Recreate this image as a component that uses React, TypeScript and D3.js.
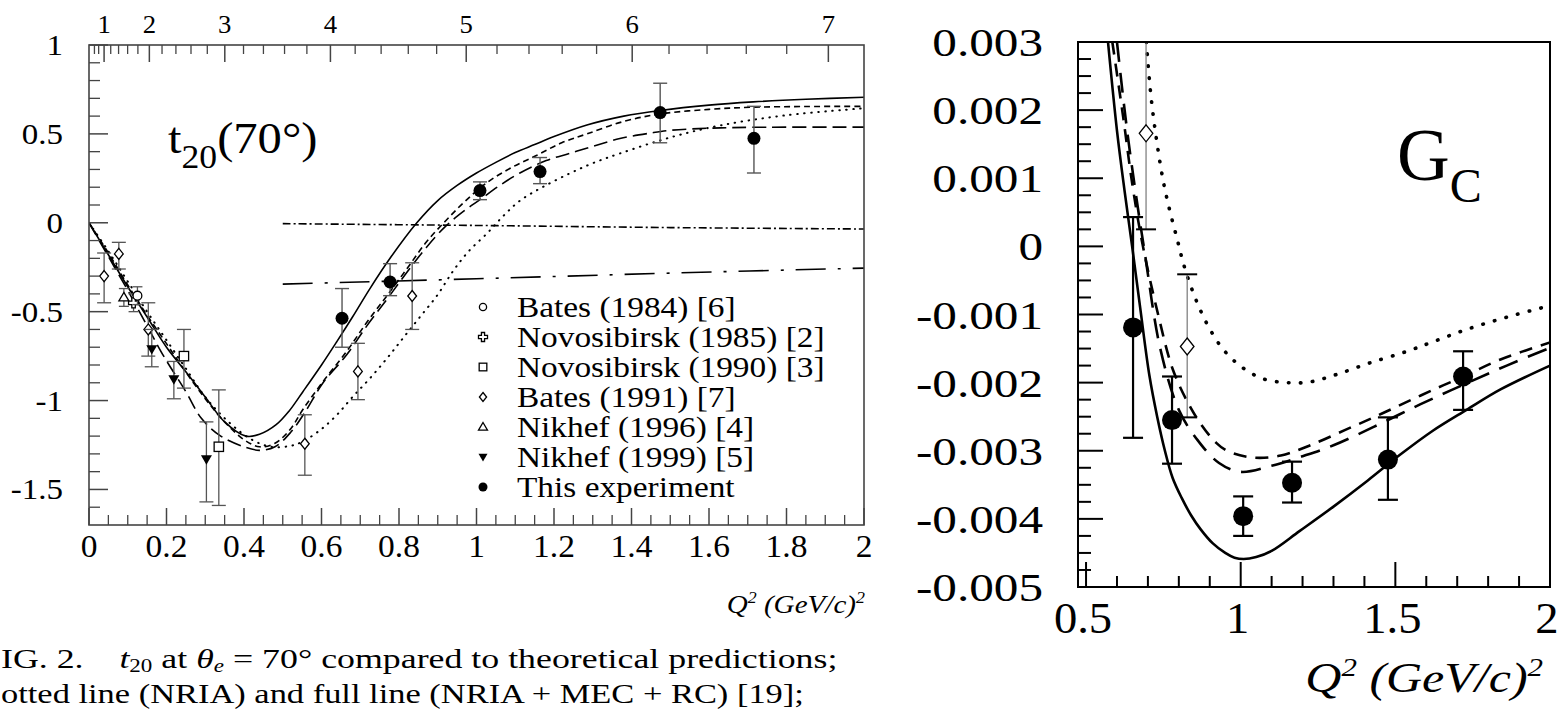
import React from 'react';
import * as d3 from 'd3';

const FONT = '"Liberation Serif", "Times New Roman", Times, serif';
type P = [number, number];
type E = [number, number, number, number];

// ---------- Left panel (t20) ----------
const t20XTicks = [0, 0.2, 0.4, 0.6, 0.8, 1, 1.2, 1.4, 1.6, 1.8, 2];
const t20XTickLabels = ['0', '0.2', '0.4', '0.6', '0.8', '1', '1.2', '1.4', '1.6', '1.8', '2'];
const t20YTicks = [-1.5, -1, -0.5, 0, 0.5, 1];
const t20YTickLabels = ['-1.5', '-1', '-0.5', '0', '0.5', '1'];
const qTopTicks = [1, 2, 3, 4, 5, 6, 7];
const qTopTickLabels = ['1', '2', '3', '4', '5', '6', '7'];
const HBARC = 0.19733;

const t20Solid: P[] = [[0, 0], [0.05, -0.18], [0.1, -0.36], [0.15, -0.53], [0.2, -0.7], [0.258, -0.86], [0.3, -0.98], [0.35, -1.12], [0.405, -1.2], [0.44, -1.19], [0.483, -1.136], [0.516, -1.06], [0.552, -0.95], [0.6, -0.8], [0.64, -0.667], [0.68, -0.53], [0.725, -0.37], [0.78, -0.19], [0.846, 0], [0.9, 0.125], [0.95, 0.21], [1.0, 0.28], [1.05, 0.34], [1.1, 0.395], [1.15, 0.44], [1.2, 0.485], [1.285, 0.55], [1.38, 0.6], [1.474, 0.632], [1.6, 0.662], [1.714, 0.68], [1.85, 0.695], [2.0, 0.706]];
const t20ShortDash: P[] = [[0, 0], [0.05, -0.17], [0.1, -0.35], [0.15, -0.52], [0.2, -0.68], [0.25, -0.84], [0.3, -0.99], [0.35, -1.12], [0.4, -1.22], [0.44, -1.26], [0.48, -1.24], [0.52, -1.16], [0.552, -1.05], [0.604, -0.893], [0.666, -0.72], [0.717, -0.56], [0.769, -0.41], [0.82, -0.26], [0.87, -0.11], [0.92, 0.01], [0.97, 0.12], [1.027, 0.226], [1.09, 0.31], [1.156, 0.38], [1.22, 0.45], [1.285, 0.5], [1.38, 0.57], [1.474, 0.612], [1.6, 0.638], [1.714, 0.65], [1.85, 0.654], [2.0, 0.655]];
const t20LongDash: P[] = [[0, 0], [0.05, -0.19], [0.1, -0.38], [0.15, -0.58], [0.19, -0.74], [0.25, -0.95], [0.29, -1.1], [0.34, -1.2], [0.4, -1.26], [0.44, -1.28], [0.48, -1.26], [0.52, -1.18], [0.556, -1.07], [0.604, -0.9], [0.666, -0.74], [0.717, -0.58], [0.769, -0.43], [0.82, -0.28], [0.87, -0.14], [0.92, -0.02], [0.97, 0.07], [1.009, 0.13], [1.06, 0.21], [1.112, 0.28], [1.18, 0.35], [1.24, 0.39], [1.3, 0.43], [1.37, 0.474], [1.45, 0.505], [1.5, 0.52], [1.6, 0.532], [1.714, 0.537], [2.0, 0.538]];
const t20Dotted: P[] = [[0, 0], [0.05, -0.16], [0.1, -0.33], [0.15, -0.5], [0.2, -0.66], [0.25, -0.82], [0.3, -0.98], [0.36, -1.12], [0.42, -1.22], [0.47, -1.26], [0.52, -1.255], [0.552, -1.23], [0.6, -1.16], [0.64, -1.08], [0.68, -0.98], [0.725, -0.875], [0.77, -0.76], [0.81, -0.65], [0.854, -0.53], [0.898, -0.41], [0.94, -0.27], [0.98, -0.16], [1.027, -0.06], [1.07, 0.04], [1.112, 0.124], [1.17, 0.2], [1.24, 0.277], [1.3, 0.335], [1.37, 0.39], [1.5, 0.48], [1.63, 0.548], [1.8, 0.605], [2.0, 0.644]];
const t20DashDotDot: P[] = [[0.5, -0.005], [1.0, -0.015], [1.5, -0.027], [2.0, -0.035]];
const t20LongDashDot: P[] = [[0.5, -0.345], [1.0, -0.315], [1.5, -0.283], [2.0, -0.255]];

// [x, y, low, high]
const t20ThisExp: E[] = [[0.653, -0.537, -0.70, -0.37], [0.777, -0.333, -0.41, -0.23], [1.009, 0.181, 0.13, 0.23], [1.164, 0.288, 0.22, 0.367], [1.474, 0.62, 0.45, 0.785], [1.716, 0.475, 0.28, 0.655]];
const t20Bates91: E[] = [[0.039, -0.30, -0.45, -0.17], [0.077, -0.175, -0.26, -0.11], [0.153, -0.60, -0.75, -0.45], [0.557, -1.243, -1.42, -1.08], [0.694, -0.836, -0.995, -0.678], [0.834, -0.412, -0.6, -0.225]];
const t20Bates84: E[] = [[0.125, -0.41, -0.46, -0.36]];
const t20Novo85: E[] = [[0.115, -0.45, -0.5, -0.4]];
const t20Novo90: E[] = [[0.245, -0.75, -0.93, -0.6], [0.335, -1.26, -1.59, -0.94]];
const t20Nikhef96: E[] = [[0.09, -0.42, -0.47, -0.37]];
const t20Nikhef99: E[] = [[0.162, -0.71, -0.81, -0.6], [0.219, -0.88, -0.99, -0.78], [0.303, -1.33, -1.57, -1.12]];

const legendLabels = ['Bates (1984) [6]', 'Novosibirsk (1985) [2]', 'Novosibirsk (1990) [3]', 'Bates (1991) [7]', 'Nikhef (1996) [4]', 'Nikhef (1999) [5]', 'This experiment'];
const legendMarkers = ['ocircle', 'cross', 'square', 'diamond', 'utri', 'dtri', 'fcircle'];

// ---------- Right panel (G_C) ----------
const gcXTicks = [0.5, 1, 1.5, 2];
const gcXTickLabels = ['0.5', '1', '1.5', '2'];
const gcYTicks = [0.003, 0.002, 0.001, 0, -0.001, -0.002, -0.003, -0.004, -0.005];
const gcYTickLabels = ['0.003', '0.002', '0.001', '0', '-0.001', '-0.002', '-0.003', '-0.004', '-0.005'];

const gcSolid: P[] = [[0.571, 0.003], [0.6, 0.0017], [0.625, 0.0008], [0.649, 0], [0.675, -0.0009], [0.705, -0.0019], [0.73, -0.0025], [0.755, -0.003], [0.78, -0.0034], [0.81, -0.0037], [0.84, -0.00395], [0.87, -0.00415], [0.91, -0.00436], [0.95, -0.0045], [0.98, -0.00457], [1.01, -0.00459], [1.05, -0.00456], [1.1, -0.00447], [1.19, -0.00418], [1.3, -0.00382], [1.41, -0.00344], [1.515, -0.00306], [1.62, -0.00271], [1.73, -0.0024], [1.84, -0.0021], [2.0, -0.00175]];
const gcShortDash: P[] = [[0.585, 0.003], [0.62, 0.0019], [0.65, 0.0009], [0.684, 0], [0.733, -0.001], [0.78, -0.0018], [0.83, -0.0023], [0.87, -0.0026], [0.92, -0.00288], [0.96, -0.00301], [1.04, -0.0031], [1.13, -0.00307], [1.23, -0.00291], [1.34, -0.00269], [1.43, -0.00251], [1.52, -0.00232], [1.62, -0.00211], [1.72, -0.00191], [1.84, -0.00166], [2.0, -0.00141]];
const gcLongDash: P[] = [[0.6, 0.003], [0.63, 0.0018], [0.66, 0.0008], [0.69, -0.0001], [0.74, -0.0015], [0.8, -0.0024], [0.86, -0.00284], [0.93, -0.00318], [1.0, -0.00331], [1.1, -0.00322], [1.2, -0.00308], [1.3, -0.00292], [1.43, -0.00265], [1.58, -0.00232], [1.72, -0.00203], [1.86, -0.00175], [2.0, -0.00149]];
const gcDotted: P[] = [[0.695, 0.003], [0.71, 0.0022], [0.73, 0.0015], [0.75, 0.00095], [0.772, 0.0005], [0.795, 0.0001], [0.814, -0.00024], [0.84, -0.0006], [0.869, -0.00093], [0.901, -0.00122], [0.943, -0.00151], [1.0, -0.00176], [1.07, -0.00194], [1.15, -0.002], [1.224, -0.00199], [1.31, -0.00188], [1.418, -0.00171], [1.538, -0.00154], [1.622, -0.0014], [1.73, -0.00122], [1.86, -0.00104], [2.0, -0.00087]];

const gcThisExp: E[] = [[0.652, -0.00119, -0.00281, 0.00043], [0.778, -0.00255, -0.00319, -0.00191], [1.008, -0.00396, -0.00425, -0.00367], [1.166, -0.00347, -0.00376, -0.00316], [1.476, -0.00313, -0.00372, -0.00251], [1.719, -0.00191, -0.0024, -0.00154]];
const gcBates91: E[] = [[0.694, 0.00166, 0.00025, 0.003], [0.827, -0.00147, -0.00251, -0.00041]];

// ---------- helpers ----------
const xL = d3.scaleLinear().domain([0, 2]).range([89, 864]);
const yL = d3.scaleLinear().domain([-1.7, 1]).range([525, 45]);
const xR = d3.scaleLinear().domain([0.474, 2]).range([1078, 1550]);
const yR = d3.scaleLinear().domain([-0.005, 0.003]).range([587, 42]);

function makeLine(xs: d3.ScaleLinear<number, number>, ys: d3.ScaleLinear<number, number>) {
  return d3.line<P>().x(d => xs(d[0])).y(d => ys(d[1])).curve(d3.curveCatmullRom.alpha(0.5));
}

function Marker({ type, x, y, s }: { type: string; x: number; y: number; s: number }) {
  const sw = 1.3;
  switch (type) {
    case 'fcircle':
      return <circle cx={x} cy={y} r={s} fill="#000" />;
    case 'ocircle':
      return <circle cx={x} cy={y} r={s * 0.8} fill="#fff" stroke="#000" strokeWidth={sw} />;
    case 'diamond':
      return <path d={`M${x},${y - s}L${x + s * 0.8},${y}L${x},${y + s}L${x - s * 0.8},${y}Z`} fill="#fff" stroke="#000" strokeWidth={sw} />;
    case 'square':
      return <rect x={x - s * 0.85} y={y - s * 0.85} width={s * 1.7} height={s * 1.7} fill="#fff" stroke="#000" strokeWidth={sw} />;
    case 'utri':
      return <path d={`M${x},${y - s}L${x + s},${y + s * 0.7}L${x - s},${y + s * 0.7}Z`} fill="#fff" stroke="#000" strokeWidth={sw} />;
    case 'dtri':
      return <path d={`M${x},${y + s}L${x + s},${y - s * 0.7}L${x - s},${y - s * 0.7}Z`} fill="#000" />;
    case 'cross': {
      const a = s * 0.35, b = s;
      return <path d={`M${x - a},${y - b}H${x + a}V${y - a}H${x + b}V${y + a}H${x + a}V${y + b}H${x - a}V${y + a}H${x - b}V${y - a}H${x - a}Z`} fill="#fff" stroke="#000" strokeWidth={sw} />;
    }
  }
  return null;
}

function ErrPoints({ data, type, xs, ys, s, cap, color, w, capColor, capW }: any) {
  return (
    <g>
      {data.map((d: E, i: number) => {
        const x = xs(d[0]);
        const lo = ys(d[2]);
        const hi = ys(d[3]);
        return (
          <g key={i}>
            <line x1={x} x2={x} y1={lo} y2={hi} stroke={color} strokeWidth={w} />
            <line x1={x - cap} x2={x + cap} y1={lo} y2={lo} stroke={capColor || color} strokeWidth={capW || w} />
            {d[3] < ys.domain()[1] ? <line x1={x - cap} x2={x + cap} y1={hi} y2={hi} stroke={capColor || color} strokeWidth={capW || w} /> : null}
            <Marker type={type} x={x} y={ys(d[1])} s={s} />
          </g>
        );
      })}
    </g>
  );
}

function T({ x, y, sx = 1, size, anchor = 'start', italic = false, children, weight }: any) {
  return (
    <text transform={`translate(${x},${y}) scale(${sx},1)`} fontSize={size} textAnchor={anchor} fontFamily={FONT}
      fontStyle={italic ? 'italic' : 'normal'} fontWeight={weight || 'normal'} fill="#000">
      {children}
    </text>
  );
}

export default function App() {
  const lineL = makeLine(xL, yL);
  const lineR = makeLine(xR, yR);
  const axisCol = '#444';

  const lxMinor = d3.range(0.05, 2, 0.05).filter(v => Math.abs(v / 0.2 - Math.round(v / 0.2)) > 1e-6);
  const lyMinor = d3.range(-1.7, 1.0001, 0.1).filter(v => Math.abs(v / 0.5 - Math.round(v / 0.5)) > 1e-6 && v > -1.69);
  const qMinor = d3.range(0.6, 7.1, 0.2).filter(v => Math.abs(v - Math.round(v)) > 1e-6);
  const qToQ2 = (q: number) => (q * HBARC) ** 2;

  const rxMinor = d3.range(0.6, 2, 0.1).filter(v => Math.abs(v / 0.5 - Math.round(v / 0.5)) > 1e-6);
  const ryMinor = d3.range(-0.005, 0.003, 0.00025).filter(v => Math.abs(v / 0.001 - Math.round(v / 0.001)) > 1e-6);

  const legendY = [307, 337, 367, 397, 427, 457, 487];

  return (
    <svg width={1564} height={710} style={{ position: 'absolute', left: 0, top: 0, background: '#fff' }}>
      <defs>
        <clipPath id="clipL"><rect x={89} y={45} width={775} height={480} /></clipPath>
        <clipPath id="clipR"><rect x={1078} y={42} width={472} height={545} /></clipPath>
      </defs>
      <rect x={0} y={0} width={1564} height={710} fill="#fff" />

      {/* ================= LEFT PANEL ================= */}
      <g clipPath="url(#clipL)" fill="none" stroke="#000">
        <path d={lineL(t20Solid)!} strokeWidth={1.6} />
        <path d={lineL(t20ShortDash)!} strokeWidth={1.6} strokeDasharray="6,4" />
        <path d={lineL(t20LongDash)!} strokeWidth={1.6} strokeDasharray="14,6" />
        <path d={lineL(t20Dotted)!} strokeWidth={2} strokeDasharray="0.5,6.5" strokeLinecap="round" />
        <path d={lineL(t20DashDotDot)!} strokeWidth={1.6} strokeDasharray="8,3,2,3" />
        <path d={lineL(t20LongDashDot)!} strokeWidth={1.6} strokeDasharray="30,12,3,12" />
      </g>

      <ErrPoints data={t20Bates91} type="diamond" xs={xL} ys={yL} s={5.5} cap={7} color="#555" w={1.3} />
      <ErrPoints data={t20Novo90} type="square" xs={xL} ys={yL} s={5.5} cap={7} color="#555" w={1.3} />
      <ErrPoints data={t20Nikhef99} type="dtri" xs={xL} ys={yL} s={5.5} cap={7} color="#555" w={1.3} />
      <ErrPoints data={t20Nikhef96} type="utri" xs={xL} ys={yL} s={5} cap={5} color="#555" w={1.3} />
      <ErrPoints data={t20Novo85} type="cross" xs={xL} ys={yL} s={5} cap={5} color="#555" w={1.3} />
      <ErrPoints data={t20Bates84} type="ocircle" xs={xL} ys={yL} s={5.5} cap={5} color="#555" w={1.3} />
      <ErrPoints data={t20ThisExp} type="fcircle" xs={xL} ys={yL} s={6.5} cap={7} color="#555" w={1.4} />

      <rect x={89} y={45} width={775} height={480} fill="none" stroke={axisCol} strokeWidth={1.6} />
      {t20XTicks.map((v, i) => <line key={'lxM' + i} x1={xL(v)} x2={xL(v)} y1={525} y2={508} stroke={axisCol} strokeWidth={1.5} />)}
      {lxMinor.map((v, i) => <line key={'lxm' + i} x1={xL(v)} x2={xL(v)} y1={525} y2={515} stroke={axisCol} strokeWidth={1.3} />)}
      {t20YTicks.map((v, i) => <line key={'lyM' + i} x1={89} x2={108} y1={yL(v)} y2={yL(v)} stroke={axisCol} strokeWidth={1.5} />)}
      {lyMinor.map((v, i) => <line key={'lym' + i} x1={89} x2={100} y1={yL(v)} y2={yL(v)} stroke={axisCol} strokeWidth={1.3} />)}
      {qTopTicks.map((q, i) => <line key={'qM' + i} x1={xL(qToQ2(q))} x2={xL(qToQ2(q))} y1={45} y2={62} stroke={axisCol} strokeWidth={1.5} />)}
      {qMinor.map((q, i) => <line key={'qm' + i} x1={xL(qToQ2(q))} x2={xL(qToQ2(q))} y1={45} y2={54} stroke={axisCol} strokeWidth={1.3} />)}

      {t20XTicks.map((v, i) => <T key={'lxl' + i} x={xL(v)} y={557} size={31} sx={1.08} anchor="middle">{t20XTickLabels[i]}</T>)}
      {t20YTicks.map((v, i) => <T key={'lyl' + i} x={63} y={yL(v) + 10} size={30} sx={1.1} anchor="end">{t20YTickLabels[i]}</T>)}
      {qTopTicks.map((q, i) => <T key={'ql' + i} x={xL(qToQ2(q))} y={33} size={25} sx={1.07} anchor="middle">{qTopTickLabels[i]}</T>)}

      <T x={865} y={613} size={26} sx={1.12} anchor="end" italic>
        <tspan>Q</tspan><tspan dy={-10} fontSize={16}>2</tspan><tspan dy={10}> (GeV/c)</tspan><tspan dy={-10} fontSize={16}>2</tspan>
      </T>

      <T x={168} y={153} size={45} sx={1.08}>
        <tspan>t</tspan><tspan dy={15} fontSize={33}>20</tspan><tspan dy={-15}>(70°)</tspan>
      </T>

      {legendLabels.map((lab, i) => (
        <g key={'lg' + i}>
          <Marker type={legendMarkers[i]} x={483} y={legendY[i]} s={4.5} />
          <T x={517} y={legendY[i] + 10} size={29} sx={1.15}>{lab}</T>
        </g>
      ))}

      {/* caption (cropped in the source at its left edge) */}
      <T x={1} y={668} size={28} sx={1.28}>
        <tspan>IG. 2.</tspan><tspan>{'\u00a0\u00a0\u00a0\u00a0'}</tspan><tspan fontStyle="italic">t</tspan><tspan dy={4} fontSize={18}>20</tspan><tspan dy={-4}> at </tspan><tspan fontStyle="italic">θ</tspan><tspan dy={4} fontSize={18} fontStyle="italic">e</tspan><tspan dy={-4}> = 70° compared to theoretical predictions;</tspan>
      </T>
      <T x={1} y={703} size={28} sx={1.23}>otted line (NRIA) and full line (NRIA + MEC + RC) [19];</T>

      {/* ================= RIGHT PANEL ================= */}
      <g clipPath="url(#clipR)" fill="none" stroke="#000">
        <path d={lineR(gcSolid)!} strokeWidth={2.6} />
        <path d={lineR(gcShortDash)!} strokeWidth={2.6} strokeDasharray="13,9" />
        <path d={lineR(gcLongDash)!} strokeWidth={2.6} strokeDasharray="20,11" />
        <path d={lineR(gcDotted)!} strokeWidth={3.6} strokeDasharray="0.5,11.5" strokeLinecap="round" />
      </g>

      <ErrPoints data={gcBates91} type="diamond" xs={xR} ys={yR} s={8.5} cap={10} color="#777" w={1.2} capColor="#000" capW={2} />
      <ErrPoints data={gcThisExp} type="fcircle" xs={xR} ys={yR} s={10} cap={10} color="#000" w={2.2} />

      <rect x={1078} y={42} width={472} height={545} fill="none" stroke="#000" strokeWidth={2} />
      {gcXTicks.map((v, i) => <line key={'rxM' + i} x1={xR(v)} x2={xR(v)} y1={587} y2={562} stroke="#000" strokeWidth={2} />)}
      {rxMinor.map((v, i) => <line key={'rxm' + i} x1={xR(v)} x2={xR(v)} y1={587} y2={576} stroke="#000" strokeWidth={2} />)}
      {gcYTicks.map((v, i) => <line key={'ryM' + i} x1={1078} x2={1103} y1={yR(v)} y2={yR(v)} stroke="#000" strokeWidth={2} />)}
      {ryMinor.map((v, i) => <line key={'rym' + i} x1={1078} x2={1091} y1={yR(v)} y2={yR(v)} stroke="#000" strokeWidth={2} />)}

      {gcXTicks.map((v, i) => <T key={'rxl' + i} x={xR(v) - 3} y={633} size={44} sx={1.06} anchor="middle">{gcXTickLabels[i]}</T>)}
      {gcYTicks.map((v, i) => <T key={'ryl' + i} x={1043} y={yR(v) + 14} size={41} sx={1.2} anchor="end">{gcYTickLabels[i]}</T>)}

      <T x={1543} y={692} size={42} sx={1.19} anchor="end" italic>
        <tspan>Q</tspan><tspan dy={-16} fontSize={26}>2</tspan><tspan dy={16}> (GeV/c)</tspan><tspan dy={-16} fontSize={26}>2</tspan>
      </T>

      <T x={1397} y={180} size={73}>
        <tspan>G</tspan><tspan dy={22} fontSize={48}>C</tspan>
      </T>
    </svg>
  );
}
